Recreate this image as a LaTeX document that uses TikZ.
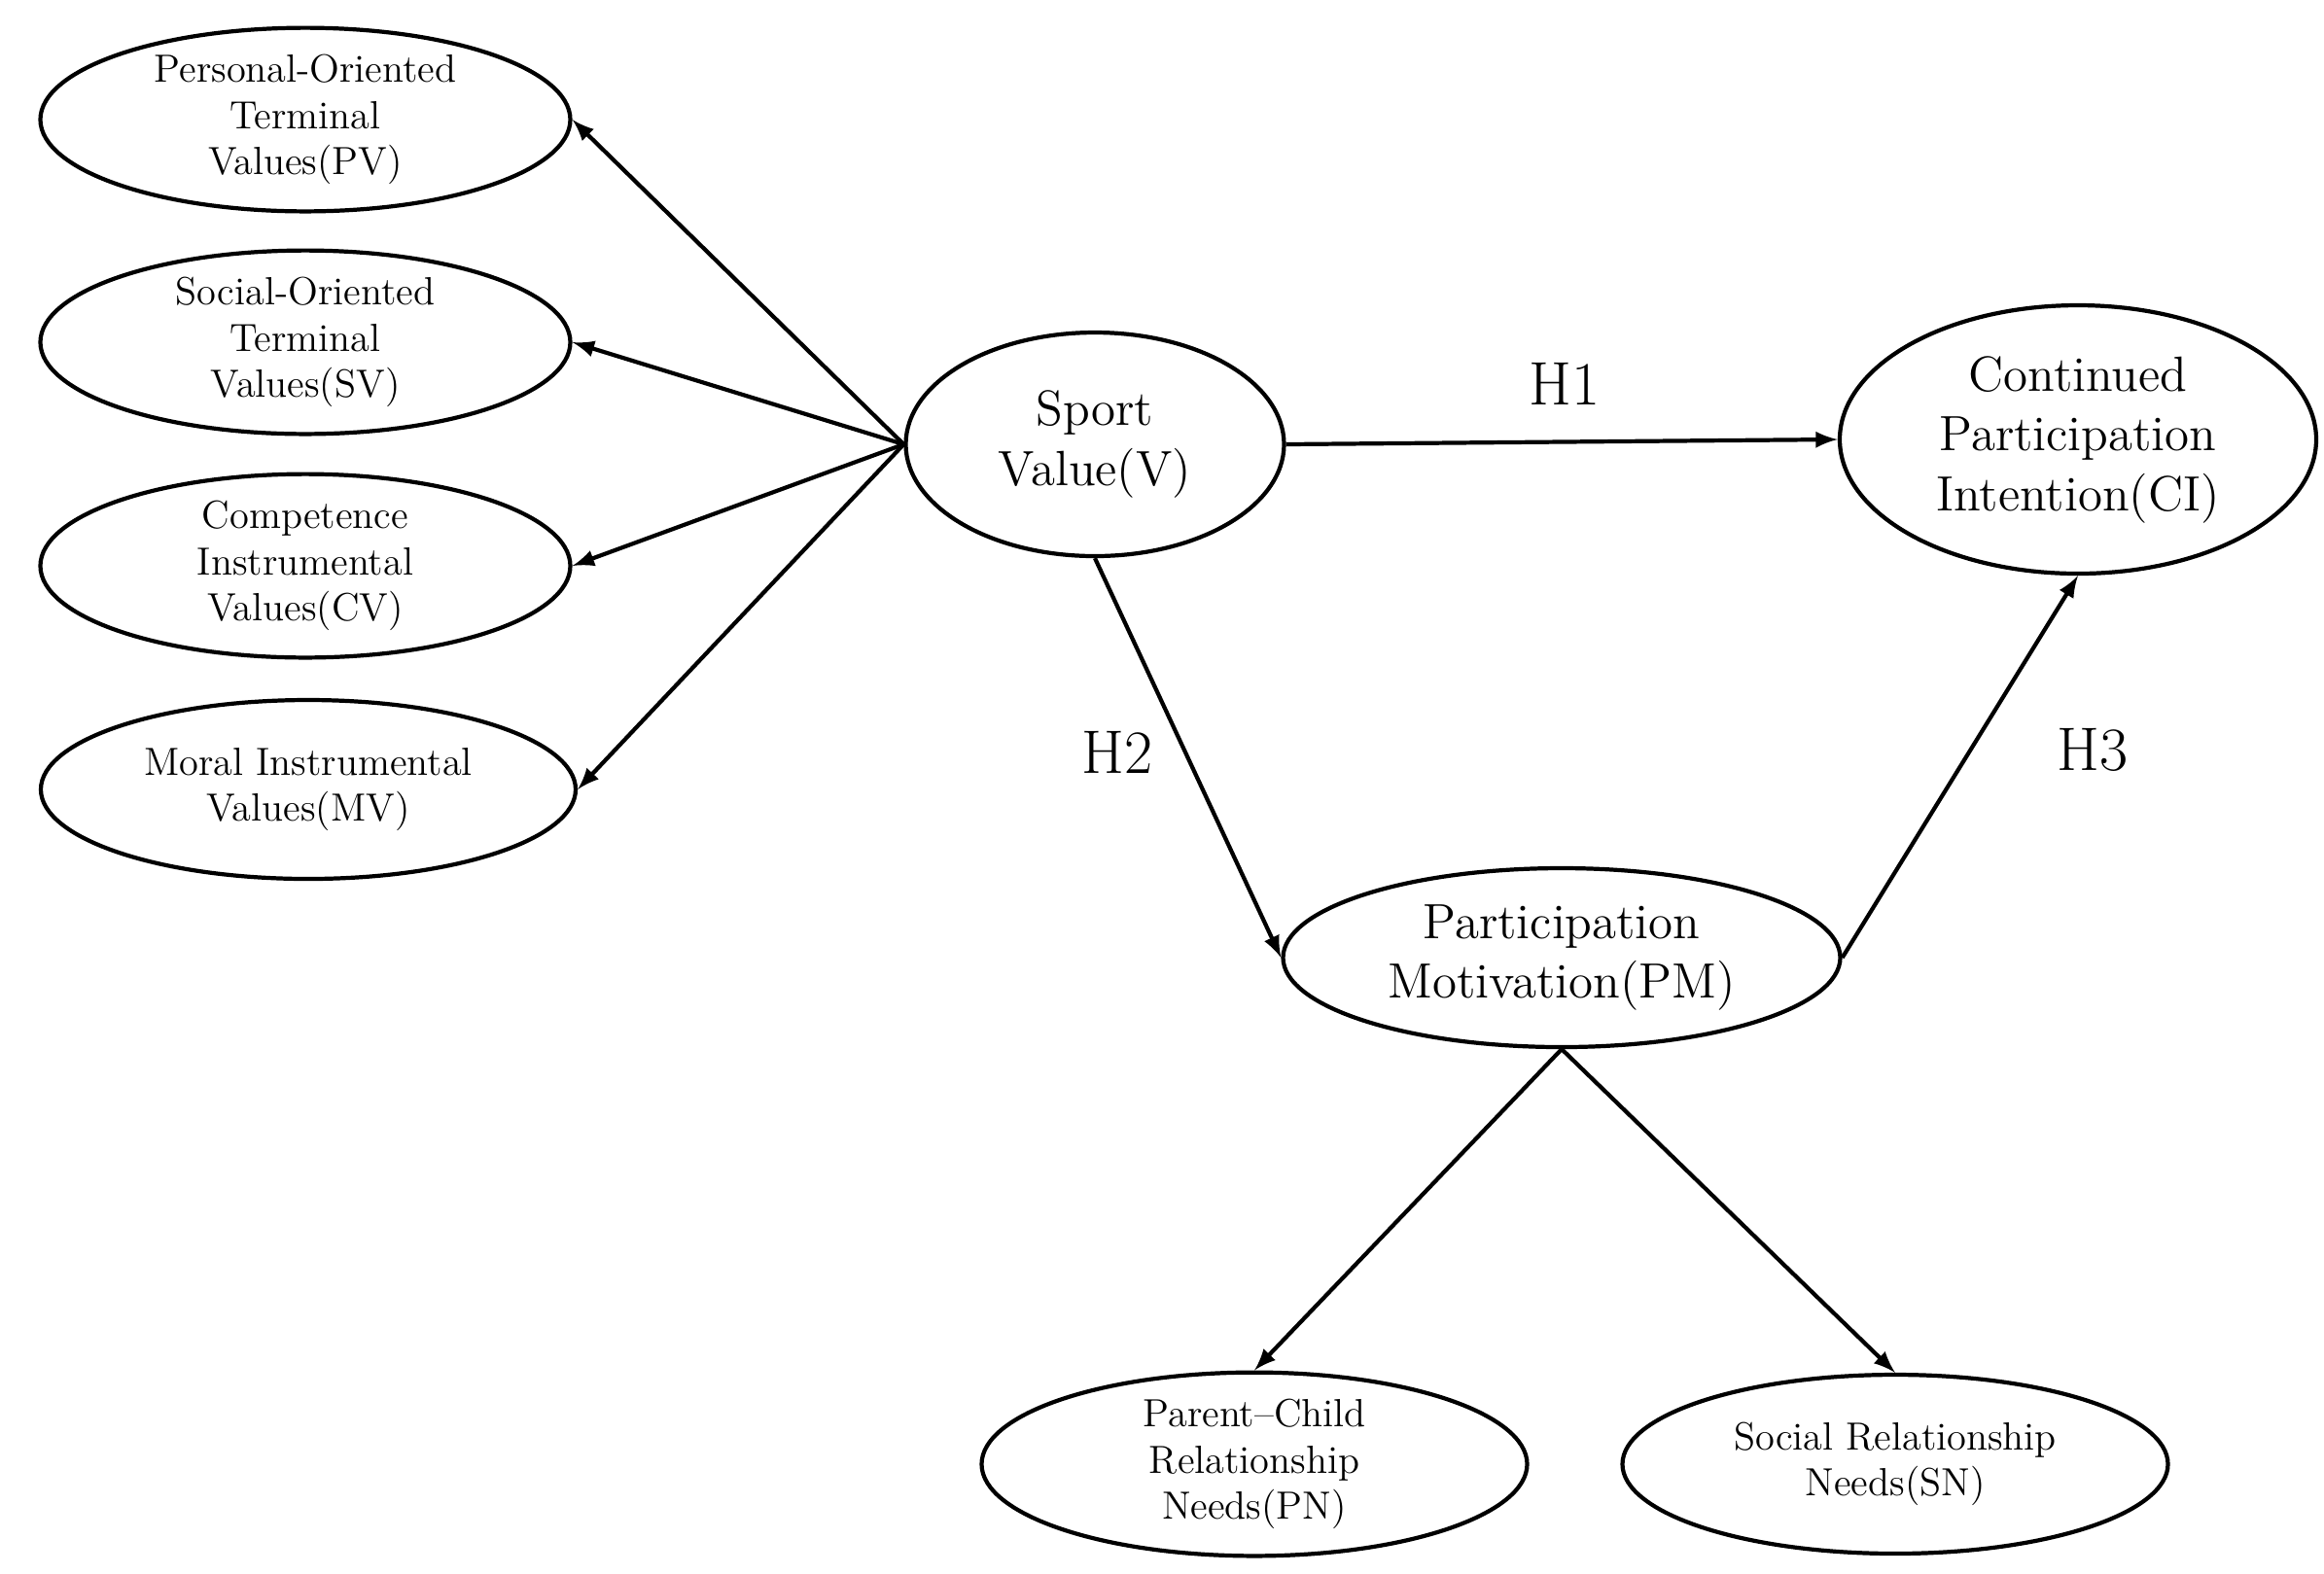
\documentclass[tikz,border=0pt]{standalone}
\usepackage{tikz}
\usetikzlibrary{shapes.geometric}

\tikzset{
  small/.style={ellipse, draw, line width=1.2pt, inner sep=0pt, align=center,
    font=\fontsize{11.5}{13.5}\selectfont},
  big/.style={ellipse, draw, line width=1.2pt, inner sep=0pt, align=center,
    font=\fontsize{14.5}{17.5}\selectfont},
  hyp/.style={font=\fontsize{18}{20}\selectfont}
}

\begin{document}
\begin{tikzpicture}[>=latex, line width=1.2pt]
            \useasboundingbox (0, 0) rectangle (23.9, -16.18);
            % value dimensions
            \node[small, minimum width=5.45cm, minimum height=1.84cm] (PV) at (3.14, -1.23) {Personal-Oriented\\Terminal\\Values(PV)};
            \node[small, minimum width=5.45cm, minimum height=1.84cm] (SV) at (3.14, -3.52) {Social-Oriented\\Terminal\\Values(SV)};
            \node[small, minimum width=5.45cm, minimum height=1.84cm] (CV) at (3.14, -5.82) {Competence\\Instrumental\\Values(CV)};
            \node[small, minimum width=5.5cm, minimum height=1.84cm] (MV) at (3.17, -8.12) {Moral Instrumental\\Values(MV)};
            % main constructs
            \node[big, minimum width=3.89cm, minimum height=2.3cm] (V) at (11.26, -4.57) {Sport\\Value(V)};
            \node[big, minimum width=4.9cm, minimum height=2.76cm] (CI) at (21.37, -4.52) {Continued\\Participation\\Intention(CI)};
            \node[big, minimum width=5.73cm, minimum height=1.84cm] (PM) at (16.06, -9.85) {Participation\\Motivation(PM)};
            % motivation dimensions
            \node[small, minimum width=5.61cm, minimum height=1.84cm] (PN) at (12.9, -15.06) {Parent--Child\\Relationship\\Needs(PN)};
            \node[small, minimum width=5.61cm, minimum height=1.84cm] (SN) at (19.49, -15.06) {Social Relationship\\Needs(SN)};
            \node[hyp] (H1) at (16.09, -3.95) {H1};
            \node[hyp] (H2) at (11.49, -7.74) {H2};
            \node[hyp] (H3) at (21.52, -7.71) {H3};
            \draw[->] (V.west) -- (PV.east);
            \draw[->] (V.west) -- (SV.east);
            \draw[->] (V.west) -- (CV.east);
            \draw[->] (V.west) -- (MV.east);
            \draw[->] (V.east) -- (CI.west);
            \draw[->] (V.south) -- (PM.west);
            \draw[->] (PM.east) -- (CI.south);
            \draw[->] (PM.south) -- (PN.north);
            \draw[->] (PM.south) -- (SN.north);
        \end{tikzpicture}
\end{document}
